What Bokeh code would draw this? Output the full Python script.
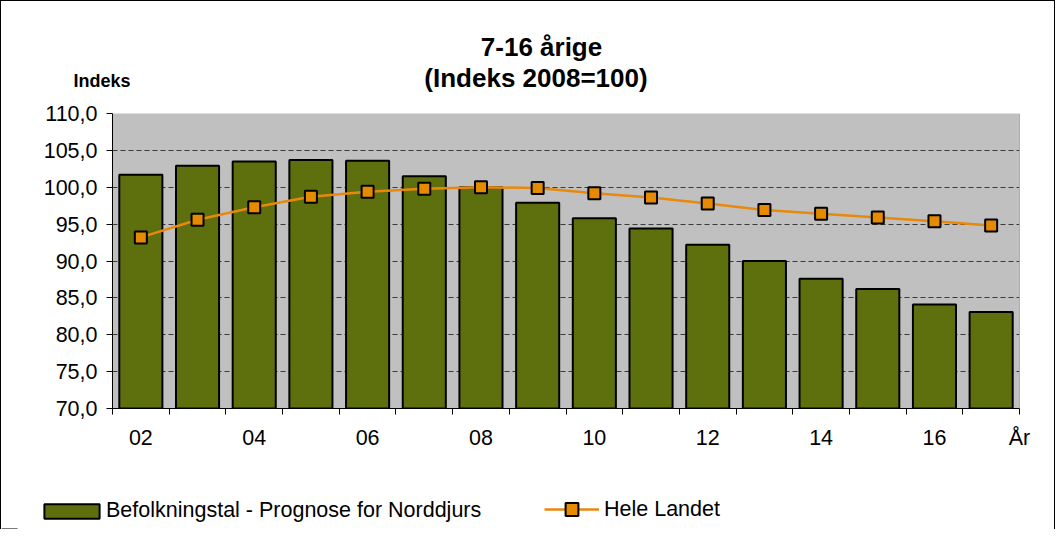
from bokeh.plotting import figure
from bokeh.layouts import column, row
from bokeh.models import (FixedTicker, Span, Label, Legend, LegendItem, ColumnDataSource)
from bokeh.embed import file_html
from bokeh.resources import INLINE

# ---- data ----
years = ["02", "03", "04", "05", "06", "07", "08", "09", "10", "11", "12", "13", "14", "15", "16", "17"]
norddjurs = [101.7, 102.9, 103.5, 103.7, 103.6, 101.5, 100.0, 97.9, 95.8, 94.4, 92.2, 90.0, 87.6, 86.2, 84.1, 83.1]
hele_landet = [93.2, 95.6, 97.3, 98.7, 99.4, 99.8, 100.0, 99.9, 99.2, 98.6, 97.8, 96.9, 96.4, 95.9, 95.4, 94.8]
x_tick_labels = ["02", "04", "06", "08", "10", "12", "14", "16"]
y_ticks = [70, 75, 80, 85, 90, 95, 100, 105, 110]
y_tick_labels = ["70,0", "75,0", "80,0", "85,0", "90,0", "95,0", "100,0", "105,0", "110,0"]
series_names = ["Befolkningstal - Prognose for Norddjurs", "Hele Landet"]
title_lines = ["7-16 årige", "(Indeks 2008=100)"]
y_title = "Indeks"
x_title = "År"

FONT = "Liberation Sans"
W = 1053
BAR_FILL = "#5E6F0E"
LINE_COL = "#E8890C"
MARK_FILL = "#E68A00"


def blank(height):
    f = figure(width=W, height=height, x_range=(0, W), y_range=(height, 0),
               output_backend="svg", toolbar_location=None, title=None,
               x_axis_location=None, y_axis_location=None,
               min_border_left=0, min_border_right=0, min_border_top=0, min_border_bottom=0)
    f.outline_line_color = None
    f.background_fill_color = "white"
    f.border_fill_color = "white"
    f.xgrid.grid_line_color = None
    f.ygrid.grid_line_color = None
    return f


# ---------- header (titles) ----------
head = blank(98)
head.add_layout(Label(x=540, y=45.3, text=title_lines[0], text_align="center", text_baseline="middle",
                      text_font=FONT, text_font_size="26px", text_font_style="bold", text_color="black"))
head.add_layout(Label(x=534.5, y=76.5, text=title_lines[1], text_align="center", text_baseline="middle",
                      text_font=FONT, text_font_size="26px", text_font_style="bold", text_color="black"))
head.add_layout(Label(x=72, y=79.8, text=y_title, text_align="left", text_baseline="middle",
                      text_font=FONT, text_font_size="18px", text_font_style="bold", text_color="black"))

# ---------- main chart ----------
centers = [i + 0.5 for i in range(len(years))]
src = ColumnDataSource(dict(x=centers, bar=norddjurs, line=hele_landet))

p = figure(width=W, height=362, x_range=(0, len(years)), y_range=(70, 110),
           output_backend="svg", toolbar_location=None, title=None,
           min_border_left=111, min_border_right=35, min_border_top=14, min_border_bottom=53)
p.background_fill_color = "#C0C0C0"
p.border_fill_color = "white"
p.outline_line_color = None

bars = p.vbar(x="x", top="bar", bottom=70, width=0.76, source=src,
              fill_color=BAR_FILL, line_color="black", line_width=2)
ln = p.line(x="x", y="line", source=src, line_color=LINE_COL, line_width=2.5)
mk = p.scatter(x="x", y="line", source=src, marker="square", size=12,
               fill_color=MARK_FILL, line_color="black", line_width=2)

xa = p.xaxis[0]
label_pos = [centers[years.index(t)] for t in x_tick_labels]
end_pos = len(years)
xa.ticker = FixedTicker(ticks=label_pos + [end_pos], minor_ticks=list(range(len(years) + 1)))
overrides = {c: t for c, t in zip(label_pos, x_tick_labels)}
overrides[end_pos] = x_title
xa.major_label_overrides = overrides
xa.major_tick_out = 0
xa.major_tick_in = 0
xa.minor_tick_out = 6
xa.minor_tick_in = 0
xa.minor_tick_line_color = "black"
xa.axis_line_color = "black"
xa.major_label_standoff = 11
xa.major_label_text_font = FONT
xa.major_label_text_font_size = "21.5px"
xa.major_label_text_color = "black"

ya = p.yaxis[0]
ya.ticker = FixedTicker(ticks=y_ticks, minor_ticks=[])
ya.major_label_overrides = {t: l for t, l in zip(y_ticks, y_tick_labels)}
ya.major_tick_out = 6
ya.major_tick_in = 0
ya.minor_tick_line_color = None
ya.axis_line_color = "black"
ya.major_label_standoff = 9
ya.major_label_text_font = FONT
ya.major_label_text_font_size = "21.5px"
ya.major_label_text_color = "black"

p.xgrid.grid_line_color = None
p.ygrid.grid_line_color = "#3A3A3A"
p.ygrid.grid_line_dash = "5 3"
p.ygrid.grid_line_width = 1

p.add_layout(Span(location=len(years), dimension="height", line_color="#808080", line_width=1))

# ---------- footer (legend) ----------
# legend renderers share the series' source; their values lie outside this strip's y range,
# so only their legend glyphs are visible
foot = blank(68)
lb = foot.vbar(x="x", top="bar", bottom=70, width=0.76, source=src,
               fill_color=BAR_FILL, line_color="black", line_width=2)
ll = foot.line(x="x", y="line", source=src, line_color=LINE_COL, line_width=2.5)
lm = foot.scatter(x="x", y="line", source=src, marker="square", size=12,
                  fill_color=MARK_FILL, line_color="black", line_width=2)

leg1 = Legend(items=[LegendItem(label=series_names[0], renderers=[lb])],
              location=(36, 6), orientation="horizontal", glyph_width=69, glyph_height=18,
              label_height=20, label_standoff=0, padding=0, margin=0, spacing=0,
              label_text_font=FONT, label_text_font_size="21.5px", label_text_color="black",
              background_fill_alpha=0, border_line_color=None)
leg2 = Legend(items=[LegendItem(label=series_names[1], renderers=[ll, lm])],
              location=(543, 4), orientation="horizontal", glyph_width=55, glyph_height=32,
              label_height=20, label_standoff=5, padding=0, margin=0, spacing=0,
              label_text_font=FONT, label_text_font_size="21.5px", label_text_color="black",
              background_fill_alpha=0, border_line_color=None)
foot.add_layout(leg1)
foot.add_layout(leg2)

layout = column(row(head), row(p), row(foot), spacing=0,
                styles={"border-left": "1px solid black", "border-top": "1px solid black",
                        "border-right": "1px solid black"})

open("out.html", "w").write(file_html(layout, INLINE))
